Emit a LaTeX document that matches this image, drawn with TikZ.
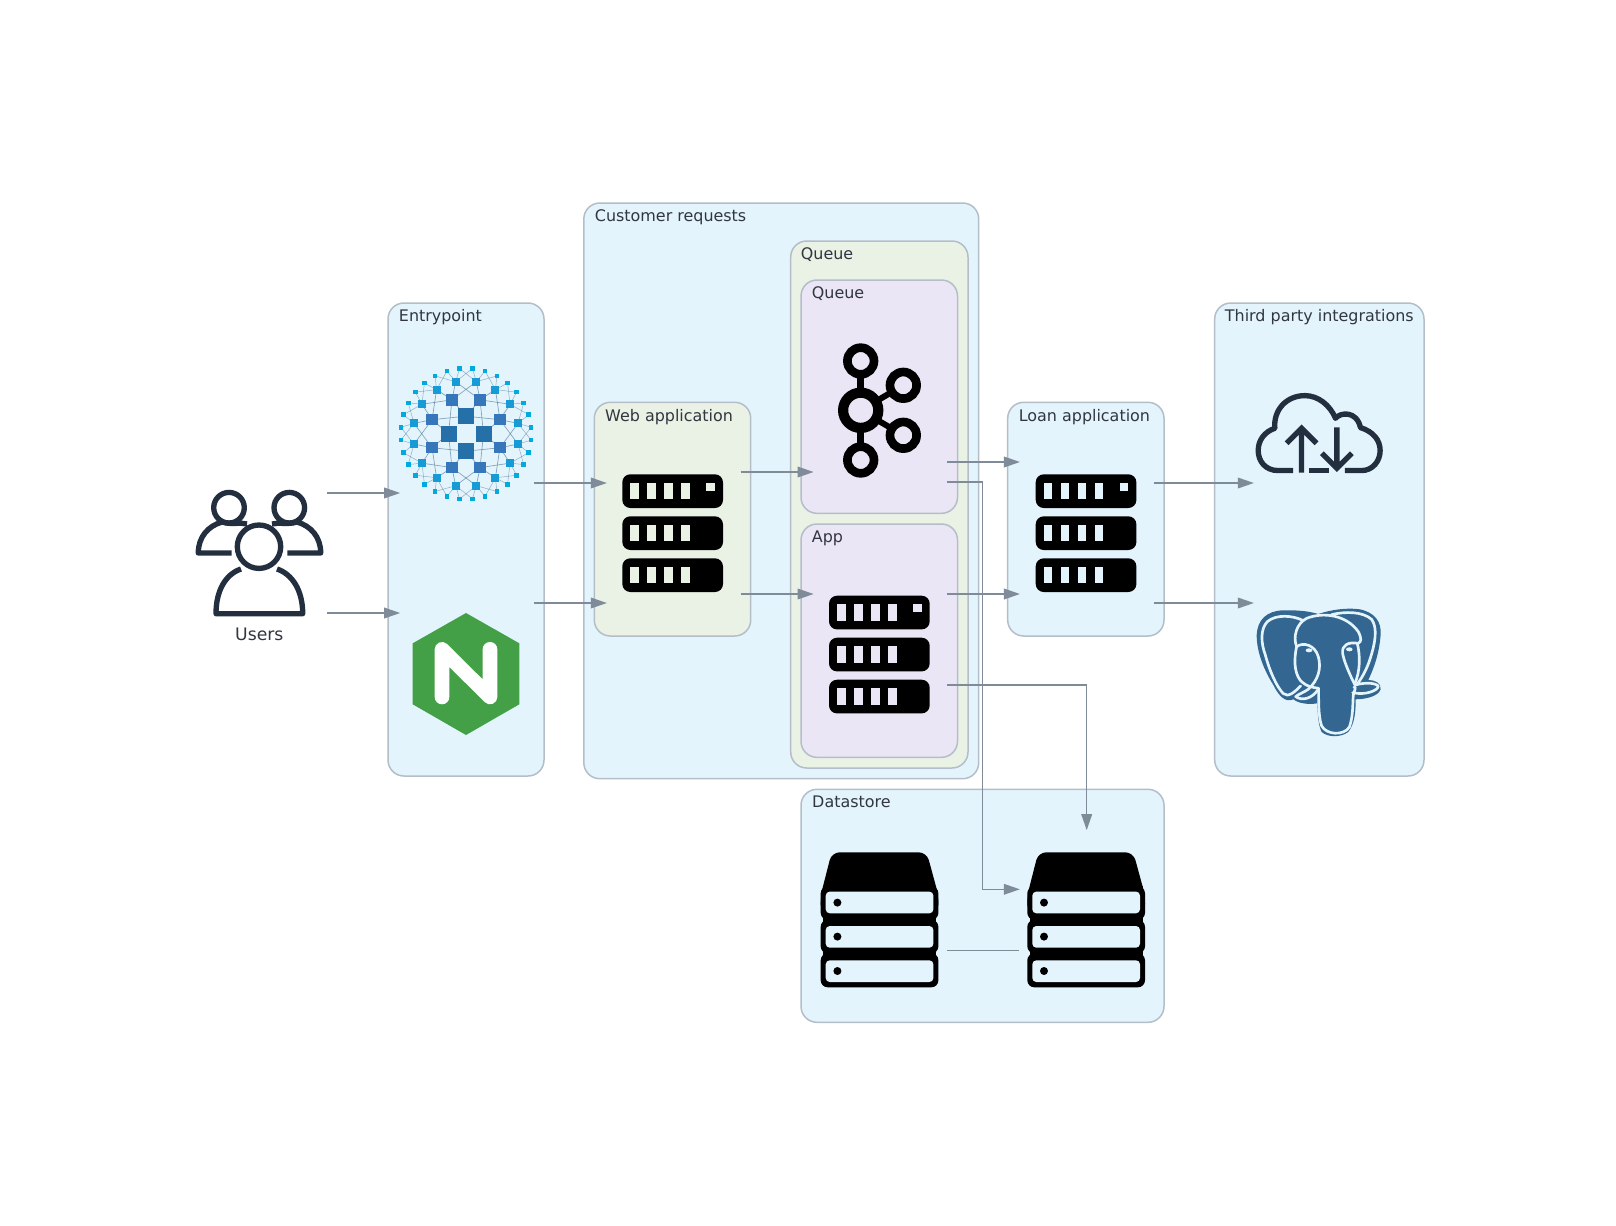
\documentclass[tikz,border=0pt]{standalone}
\usepackage{fontspec}
\setmainfont{DejaVu Sans}
\usetikzlibrary{arrows.meta,fit}
\definecolor{bgblue}{HTML}{E3F4FD}
\definecolor{bggreen}{HTML}{EAF2E6}
\definecolor{bgpurple}{HTML}{EBE6F5}
\definecolor{boxline}{HTML}{B4BEC9}
\definecolor{connc}{HTML}{7F8B99}
\definecolor{inkc}{HTML}{31363F}
\definecolor{awsdark}{HTML}{232F3E}
\definecolor{kia}{HTML}{2570A8}
\definecolor{kib}{HTML}{3677BC}
\definecolor{kic}{HTML}{169BD7}
\definecolor{kid}{HTML}{00AADD}
\definecolor{kil}{HTML}{5E7F99}
\definecolor{ngx}{HTML}{43A047}
\definecolor{pgb}{HTML}{336791}
\tikzset{
  box/.style={draw=boxline,line width=0.045cm,rounded corners=0.48cm,inner sep=0pt,outer sep=0pt},
  blue box/.style={box,fill=bgblue},
  green box/.style={box,fill=bggreen},
  purple box/.style={box,fill=bgpurple},
  boxlabel/.style={anchor=base west,inner sep=0pt,text=inkc,font=\fontsize{13.6pt}{16pt}\selectfont},
  iconbox/.style={minimum width=4.01cm,minimum height=4.01cm,inner sep=0pt,outer sep=0pt},
  conn/.style={draw=connc,line width=0.04cm},
  arrow/.style={conn,-{Triangle[length=0.48cm,width=0.32cm]}},
  ico/.style={draw=awsdark,line width=0.16cm},
  kaf/.style={draw=black}
}
\newcommand{\serverico}[3]{%
  \foreach \r in {0,1,2}{
    \fill[black,rounded corners=0.24cm] (#1,{#2+42*\r}) rectangle ++(100.7,33.7);
    \foreach \c in {0,1,2,3}
      \fill[#3] ({#1+8+17*\c},{#2+42*\r+8.3}) rectangle ++(8.7,16.7);
  }
  \fill[#3] ({#1+84},{#2+8.3}) rectangle ++(8.7,8.3);
}
\newcommand{\stackico}[3]{%
  \fill[black,rounded corners=0.24cm] ({#1+11},#2) -- ({#1+106},#2) -- ({#1+117.7},{#2+43}) -- ({#1+117.7},{#2+60}) -- (#1,{#2+60}) -- (#1,{#2+43}) -- cycle;
  \foreach \r/\t/\b in {0/34/67.5,1/67.5/101,2/101/135}{
    \fill[black,rounded corners=0.21cm] (#1,{#2+\t}) rectangle ({#1+117.7},{#2+\b});
  }
  \fill[black] ({#1+2.5},{#2+34}) rectangle ({#1+115.2},{#2+128});
  \foreach \t/\d in {39.3/50.3,73.7/84.3,108/118.7}{
    \fill[#3,rounded corners=0.12cm] ({#1+5},{#2+\t}) rectangle ({#1+112.7},{#2+\t+21.7});
    \fill[black] ({#1+16.7},{#2+\d}) circle[radius=4];
  }
}
\begin{document}
\begin{tikzpicture}[x=0.03cm,y=-0.03cm]
\useasboundingbox (0,0) rectangle (1616,1225);
\fill[white] (0,0) rectangle (1616,1225);

% containers
\node[blue box,fit={(388,303)(544,776)}] (entrybox) {};
\node[blue box,fit={(583.8,203)(978.7,778.7)}] (custbox) {};
\node[green box,fit={(790.7,241)(968,768)}] (queueouter) {};
\node[purple box,fit={(801,280)(957.5,513.3)}] (queueinner) {};
\node[purple box,fit={(801,524)(957.5,757.3)}] (appbox) {};
\node[green box,fit={(594.3,402.3)(750.7,636)}] (webbox) {};
\node[blue box,fit={(1007.7,402.3)(1164,636)}] (loanbox) {};
\node[blue box,fit={(1214.7,303)(1424,776)}] (thirdbox) {};
\node[blue box,fit={(801,789.3)(1164,1022.3)}] (databox) {};

\node[boxlabel] (lentry) at (398.7,321.3) {Entrypoint};
\node[boxlabel] (lcust) at (594.7,221) {Customer requests};
\node[boxlabel] (lqo) at (800.7,259) {Queue};
\node[boxlabel] (lqi) at (811.7,298.3) {Queue};
\node[boxlabel] (lapp) at (811.7,542.3) {App};
\node[boxlabel] (lweb) at (605,421) {Web application};
\node[boxlabel] (lloan) at (1018.6,421) {Loan application};
\node[boxlabel] (lthird) at (1224.7,321.3) {Third party integrations};
\node[boxlabel] (ldata) at (812,807.2) {Datastore};

% invisible icon frames the connectors attach to
\node[iconbox] (users) at (260,553) {};
\node[iconbox] (kiali) at (467,433.7) {};
\node[iconbox] (nginx) at (467,674) {};
\node[iconbox] (web) at (673.7,533) {};
\node[iconbox] (kafka) at (880.4,410) {};
\node[iconbox] (app) at (880.4,654) {};
\node[iconbox] (loan) at (1086.8,533) {};
\node[iconbox] (cloud) at (1320.7,433) {};
\node[iconbox] (pg) at (1320.7,674) {};
\node[iconbox] (dbone) at (880.2,897) {};
\node[iconbox] (dbtwo) at (1086.7,897) {};

% users icon
\draw[ico] (229,507.7) circle[radius=15.3];
\draw[ico] (289.3,507.7) circle[radius=15.3];
\draw[ico,line join=round] (231.7,553) -- (198.3,553) .. controls (198.3,537) and (208,526) .. (222,522) (222,522) .. controls (232,525) and (240,522) .. (247,524);
\draw[ico,line join=round] (287.3,553) -- (320.7,553) .. controls (320.7,537) and (311,526) .. (297,522) (297,522) .. controls (287,525) and (279,522) .. (272,524);
\draw[ico,line join=round] (241,569) .. controls (226,574) and (216,590) .. (216,613.7) -- (302.7,613.7) .. controls (302.7,590) and (292,574) .. (277,569);
\draw[ico] (259,546.7) circle[radius=21.7];
\node[anchor=base,inner sep=0pt,text=inkc,font=\fontsize{14.7pt}{16pt}\selectfont] (lusers) at (259.3,640) {Users};

% kiali icon
\foreach \i in {0,...,31}{\pgfmathsetmacro{\a}{(\i+.5)*11.25}
  \coordinate (dd\i) at ({466+65.5*cos(\a)},{433.7+65.5*sin(\a)});}
\foreach \i in {0,...,15}{\pgfmathsetmacro{\a}{(\i+.5)*22.5}
  \coordinate (cc\i) at ({466+53*cos(\a)},{433.7+53*sin(\a)});}
\foreach \i in {0,...,7}{\pgfmathsetmacro{\a}{(\i+.5)*45}
  \coordinate (bb\i) at ({466+36.7*cos(\a)},{433.7+36.7*sin(\a)});}
\foreach \i in {0,...,3}{\pgfmathsetmacro{\a}{\i*90}
  \coordinate (aa\i) at ({466+17.5*cos(\a)},{433.7+17.5*sin(\a)});}
\foreach \k in {0,...,15}{
  \pgfmathtruncatemacro{\p}{mod(2*\k+31,32)}
  \pgfmathtruncatemacro{\q}{2*\k}
  \pgfmathtruncatemacro{\s}{2*\k+1}
  \pgfmathtruncatemacro{\t}{mod(2*\k+2,32)}
  \draw[kil,line width=0.015cm,opacity=.6] (cc\k) -- (dd\p) (cc\k) -- (dd\q) (cc\k) -- (dd\s) (cc\k) -- (dd\t);
}
\foreach \k in {0,...,7}{
  \pgfmathtruncatemacro{\p}{mod(2*\k+15,16)}
  \pgfmathtruncatemacro{\q}{2*\k}
  \pgfmathtruncatemacro{\s}{2*\k+1}
  \pgfmathtruncatemacro{\t}{mod(2*\k+2,16)}
  \pgfmathtruncatemacro{\m}{int(\k/2)}
  \pgfmathtruncatemacro{\n}{mod(\m+1,4)}
  \draw[kil,line width=0.02cm,opacity=.7] (bb\k) -- (cc\p) (bb\k) -- (cc\q) (bb\k) -- (cc\s) (bb\k) -- (cc\t) (bb\k) -- (aa\m) (bb\k) -- (aa\n);
}
\foreach \i in {0,...,31}{\fill[kid] (dd\i) ++(-2.3,-2.3) rectangle ++(4.6,4.6);}
\foreach \i in {0,...,15}{\fill[kic] (cc\i) ++(-4,-4) rectangle ++(8,8);}
\foreach \i in {0,...,7}{\fill[kib] (bb\i) ++(-5.7,-5.7) rectangle ++(11.4,11.4);}
\foreach \i in {0,...,3}{\fill[kia] (aa\i) ++(-8,-8) rectangle ++(16,16);}

% nginx icon
\fill[ngx] (466,613) -- (519.3,643.3) -- (519.3,704.3) -- (466,735) -- (412.7,704.3) -- (412.7,643.3) -- cycle;
\draw[white,line width=0.44cm,line cap=round,line join=round] (442,697) -- (442,649.3) -- (490,697) -- (490,649.3);

% servers
\serverico{622.3}{474.3}{bggreen}
\serverico{829}{595.7}{bgpurple}
\serverico{1035.7}{474.3}{bgblue}

% kafka icon
\draw[kaf,line width=0.2cm] (860.7,361) -- (860.7,460);
\draw[kaf,line width=0.18cm] (860.7,410.3) -- (903.3,385.3) (860.7,410.3) -- (903.3,435.3);
\foreach \x/\y in {860.7/361,860.7/460,903.3/385.3,903.3/435.3}{
  \draw[kaf,fill=bgpurple,line width=0.26cm] (\x,\y) circle[radius=13.3];
}
\draw[kaf,fill=bgpurple,line width=0.306cm] (860.7,410.3) circle[radius=17.6];

% database stacks
\stackico{820.7}{852.3}{bgblue}
\stackico{1027.3}{852.3}{bgblue}

% cloud icon
\begin{scope}[shift={(1000,290)},x=0.01cm,y=-0.01cm]
\draw[ico,line join=round] (880,542) -- (835,542) .. controls (795,542) and (775,512) .. (775,482) .. controls (775,450) and (795,425) .. (825,415) .. controls (820,360) and (860,317) .. (915,317) .. controls (955,317) and (990,345) .. (1007,385) .. controls (1020,368) and (1070,360) .. (1082,413) .. controls (1120,425) and (1141,450) .. (1141,482) .. controls (1141,512) and (1120,542) .. (1085,542) -- (1035,542);
\draw[ico] (928,542) -- (988,542);
\draw[ico] (905,548) -- (905,415) (860,460) -- (905,415) -- (950,460);
\draw[ico] (1011,412) -- (1011,535) (966,490) -- (1011,535) -- (1056,490);
\end{scope}

% postgres icon
\begin{scope}[shift={(1250,600)},x=0.01cm,y=-0.01cm,every path/.append style={line cap=round,line join=round}]
\fill[pgb] (205,42) .. controls (240,30) and (290,22) .. (330,28) .. controls (375,38) and (395,65) .. (392,105) .. controls (388,160) and (372,205) .. (355,240) .. controls (375,240) and (395,250) .. (392,268) .. controls (385,290) and (345,298) .. (317,298) .. controls (318,340) and (312,375) .. (295,396) .. controls (275,412) and (235,414) .. (215,396) .. controls (204,375) and (203,335) .. (202,310) .. controls (175,315) and (145,310) .. (130,298) .. controls (105,310) and (85,285) .. (70,255) .. controls (45,215) and (20,160) .. (20,105) .. controls (22,60) and (50,32) .. (100,31) .. controls (140,30) and (175,33) .. (205,42) -- cycle;
\begin{scope}[bgblue,line width=0.08cm]
\draw (160,62) .. controls (130,46) and (78,42) .. (52,65) .. controls (30,88) and (33,130) .. (46,165) .. controls (58,210) and (78,258) .. (100,281) .. controls (115,294) and (135,275) .. (152,258);
\draw (245,44) .. controls (285,34) and (338,34) .. (365,58) .. controls (385,85) and (374,135) .. (361,175) .. controls (350,210) and (335,235) .. (320,255);
\draw (140,140) .. controls (128,110) and (140,70) .. (170,55) .. controls (220,35) and (290,45) .. (325,95) .. controls (335,115) and (335,125) .. (325,130);
\draw (140,140) .. controls (132,175) and (132,215) .. (150,240) .. controls (170,262) and (190,262) .. (206,265) .. controls (206,300) and (205,350) .. (215,378) .. controls (230,405) and (280,408) .. (298,382) .. controls (310,350) and (308,310) .. (310,285) .. controls (320,255) and (315,262) .. (312,262);
\draw (140,140) .. controls (160,125) and (195,135) .. (205,170) .. controls (215,205) and (205,240) .. (175,268) .. controls (160,278) and (145,283) .. (137,290) .. controls (155,303) and (185,298) .. (205,268);
\draw (325,130) .. controls (295,125) and (275,135) .. (278,160) .. controls (282,185) and (300,225) .. (315,255) .. controls (335,250) and (370,245) .. (385,258) .. controls (385,272) and (345,287) .. (308,278);
\draw (322,130) .. controls (332,170) and (330,215) .. (315,250);
\end{scope}
\fill[bgblue] (177,151) ellipse[x radius=10,y radius=6];
\fill[bgblue] (298,148) ellipse[x radius=10,y radius=6];
\end{scope}

% connectors
\draw[arrow] (users.east |- 0,493) -- (kiali.west |- 0,493);
\draw[arrow] (users.east |- 0,613) -- (nginx.west |- 0,613);
\draw[arrow] (kiali.east |- 0,483) -- (web.west |- 0,483);
\draw[arrow] (nginx.east |- 0,603) -- (web.west |- 0,603);
\draw[arrow] (web.east |- 0,472) -- (kafka.west |- 0,472);
\draw[arrow] (web.east |- 0,594) -- (app.west |- 0,594);
\draw[arrow] (kafka.east |- 0,462) -- (loan.west |- 0,462);
\draw[arrow] (app.east |- 0,594) -- (loan.west |- 0,594);
\draw[arrow] (kafka.east |- 0,482) -- (982.7,482) -- (982.7,889.3) -- (dbtwo.west |- 0,889.3);
\draw[arrow] (app.east |- 0,685) -- (dbtwo.north |- 0,685) -- (dbtwo.north);
\draw[conn] (dbone.east |- 0,950.3) -- (1018.7,950.3);
\draw[arrow] (loan.east |- 0,483) -- (cloud.west |- 0,483);
\draw[arrow] (loan.east |- 0,603) -- (pg.west |- 0,603);
\end{tikzpicture}
\end{document}
